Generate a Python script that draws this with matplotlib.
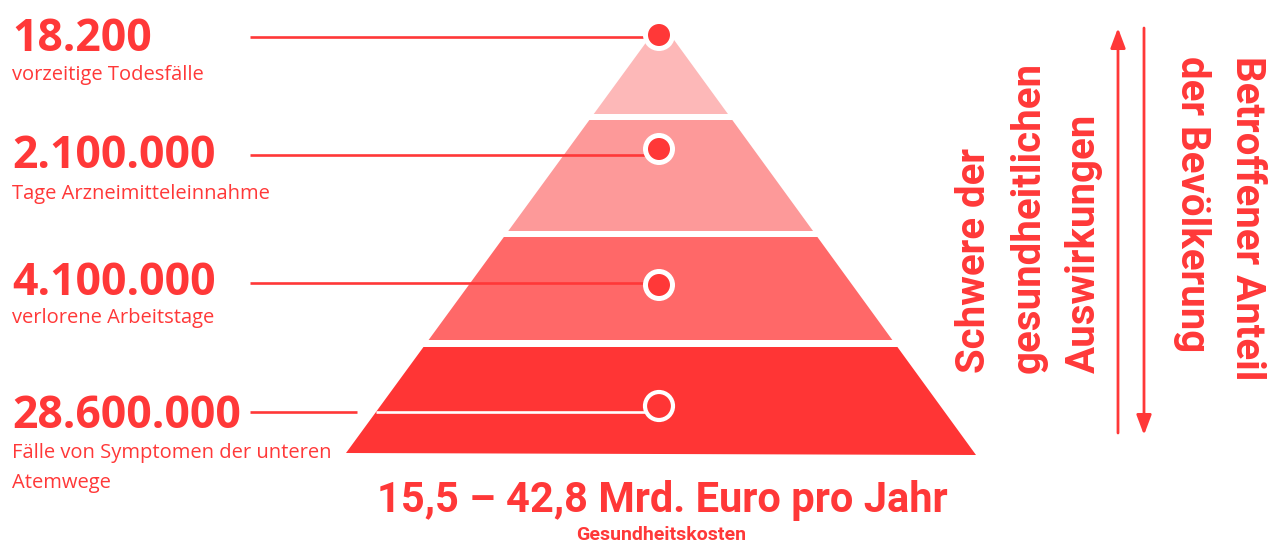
import matplotlib
matplotlib.use("Agg")
import matplotlib.pyplot as plt
from matplotlib.patches import Polygon, Circle

# --- data ---
values = ["18.200", "2.100.000", "4.100.000", "28.600.000"]
descriptions = ["vorzeitige Todesfälle", "Tage Arzneimitteleinnahme",
                "verlorene Arbeitstage", "Fälle von Symptomen der unteren\nAtemwege"]
layer_colors = ["#fdb8b8", "#fd9999", "#ff6868", "#ff3535"]
left_axis = ["Schwere der", "gesundheitlichen", "Auswirkungen"]
right_axis = ["Betroffener Anteil", "der Bevölkerung"]
cost_title = "15,5 – 42,8 Mrd. Euro pro Jahr"
cost_sub = "Gesundheitskosten"

RED = "#ff3838"
NARROW = ["Roboto", "DejaVu Sans"]
SANS = ["Open Sans", "DejaVu Sans"]

fig = plt.figure(figsize=(12.74, 5.43), dpi=100)
ax = fig.add_axes([0, 0, 1, 1])
ax.set_xlim(0, 1274)
ax.set_ylim(543, 0)
ax.axis("off")

# pyramid geometry (pixel coords, y down)
apex = (661, 22)
bl = (346, 453)
br = (976, 455)
bands = [(22, 114), (120, 231), (237, 340), (347, None)]


def xl(y):
    return apex[0] + (bl[0] - apex[0]) * (y - apex[1]) / (bl[1] - apex[1])


def xr(y):
    return apex[0] + (br[0] - apex[0]) * (y - apex[1]) / (br[1] - apex[1])


for (y0, y1), c in zip(bands, layer_colors):
    if y1 is None:
        pts = [(xl(y0), y0), (xr(y0), y0), br, bl]
    elif y0 == apex[1]:
        pts = [apex, (xr(y1), y1), (xl(y1), y1)]
    else:
        pts = [(xl(y0), y0), (xr(y0), y0), (xr(y1), y1), (xl(y1), y1)]
    ax.add_patch(Polygon(pts, closed=True, fc=c, ec="none", zorder=1))

# connector lines + markers
line_y = [37, 155, 283, 412]
dot_y = [35, 149, 285, 406]
cx = 659
for i in range(4):
    if i < 3:
        ax.plot([250, cx - 12], [line_y[i], line_y[i]], color=RED, lw=1.9,
                solid_capstyle="butt", zorder=2)
        ax.add_patch(Circle((cx, dot_y[i]), 16, fc="white", ec="none", zorder=3))
        ax.add_patch(Circle((cx, dot_y[i]), 11, fc=RED, ec="none", zorder=4))
    else:
        ax.plot([250, 357], [line_y[i], line_y[i]], color=RED, lw=1.9,
                solid_capstyle="butt", zorder=2)
        ax.plot([xl(line_y[i]), cx - 14], [line_y[i], line_y[i]], color="white",
                lw=1.9, solid_capstyle="butt", zorder=2)
        ax.add_patch(Circle((cx, dot_y[i]), 14, fc="none", ec="white", lw=3,
                            zorder=3))

# left labels
num_base = [51, 168, 295, 428]
desc_base = [80, 199, 323, 458]
for i in range(4):
    ax.text(12, num_base[i], values[i], color=RED, fontsize=32, fontweight="bold",
            family=SANS, ha="left", va="baseline")
    lines = descriptions[i].split("\n")
    for j, ln in enumerate(lines):
        ax.text(12, desc_base[i] + j * 30, ln, color=RED, fontsize=14.5,
                family=SANS, ha="left", va="baseline")

# rotated axis labels
for x, s in zip([985, 1040, 1095], left_axis):
    ax.text(x, 373, s, rotation=90, rotation_mode="anchor", ha="left",
            va="baseline", color=RED, fontsize=29, fontweight="bold", family=NARROW)
for x, s in zip([1236, 1181], right_axis):
    ax.text(x, 56, s, rotation=-90, rotation_mode="anchor", ha="left",
            va="baseline", color=RED, fontsize=29, fontweight="bold", family=NARROW)

# arrows
ax.annotate("", xy=(1118, 28), xytext=(1118, 433),
            arrowprops=dict(arrowstyle="-|>,head_length=1.2,head_width=0.45",
                            color=RED, lw=2, shrinkA=0, shrinkB=0))
ax.annotate("", xy=(1144, 435), xytext=(1144, 28),
            arrowprops=dict(arrowstyle="-|>,head_length=1.2,head_width=0.45",
                            color=RED, lw=2, shrinkA=0, shrinkB=0))

# cost text
ax.text(662, 512, cost_title, ha="center", va="baseline", color=RED,
        fontsize=30, fontweight="bold", family=NARROW)
ax.text(661, 540, cost_sub, ha="center", va="baseline", color=RED,
        fontsize=14, fontweight="bold", family=NARROW)

fig.savefig("out.png", dpi=100)
